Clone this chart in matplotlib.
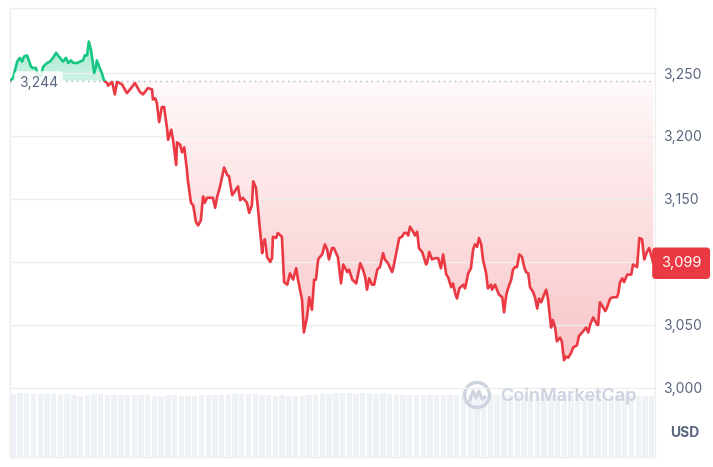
import numpy as np
import matplotlib
matplotlib.use("Agg")
from matplotlib import pyplot as plt
from matplotlib.patches import Circle, Rectangle
from matplotlib.lines import Line2D

# minutes since start of the 24h window
times = [0, 7, 11, 16, 22, 27, 31, 38, 40, 47, 51, 58, 63, 69, 74, 83, 89, 96, 103, 107,
         112, 118, 125, 130, 136, 141, 150, 156, 163, 167, 172, 176, 181, 185, 188, 192, 194, 199, 205, 210,
         217, 219, 228, 234, 239, 250, 261, 268, 279, 290, 297, 308, 317, 319, 324, 328, 333, 339, 344, 351,
         353, 360, 364, 371, 373, 380, 384, 389, 395, 397, 404, 409, 415, 420, 426, 431, 435, 440, 447, 453,
         458, 462, 469, 478, 485, 489, 496, 500, 509, 514, 520, 529, 534, 540, 543, 549, 554, 563, 565, 569,
         574, 581, 585, 587, 594, 598, 607, 612, 619, 625, 632, 639, 643, 652, 656, 663, 668, 674, 679, 683,
         688, 692, 697, 703, 708, 712, 719, 723, 732, 739, 744, 753, 757, 764, 773, 782, 788, 793, 797, 802,
         808, 813, 820, 826, 833, 837, 844, 853, 855, 864, 869, 875, 880, 886, 889, 893, 900, 904, 909, 913,
         920, 922, 929, 931, 936, 942, 949, 956, 962, 967, 974, 978, 985, 989, 994, 998, 1003, 1012, 1016, 1023,
         1029, 1034, 1038, 1043, 1047, 1052, 1056, 1063, 1067, 1074, 1076, 1083, 1087, 1092, 1099, 1103, 1108, 1112, 1119, 1123,
         1128, 1132, 1137, 1143, 1148, 1152, 1157, 1161, 1168, 1172, 1177, 1181, 1186, 1190, 1197, 1201, 1208, 1212, 1217, 1221,
         1228, 1232, 1237, 1241, 1246, 1253, 1257, 1266, 1270, 1277, 1282, 1286, 1291, 1295, 1302, 1311, 1313, 1317, 1324, 1329,
         1333, 1340, 1346, 1355, 1358, 1362, 1367, 1371, 1378, 1387, 1391, 1400, 1405, 1411, 1416, 1422, 1427, 1434, 1436]

prices = [3244, 3246, 3252, 3259, 3262, 3259, 3263, 3264, 3262, 3255, 3254, 3254, 3248, 3248, 3255, 3258, 3259, 3262, 3266, 3264,
          3262, 3259, 3262, 3258, 3260, 3258, 3258, 3259, 3260, 3264, 3264, 3275, 3268, 3258, 3250, 3255, 3260, 3255, 3250, 3244,
          3242, 3240, 3243, 3233, 3243, 3241, 3234, 3237, 3242, 3235, 3233, 3238, 3237, 3229, 3230, 3226, 3211, 3223, 3223, 3205,
          3197, 3205, 3197, 3177, 3195, 3193, 3187, 3191, 3173, 3165, 3147, 3145, 3132, 3129, 3133, 3152, 3147, 3151, 3151, 3151,
          3143, 3151, 3160, 3175, 3169, 3168, 3153, 3155, 3160, 3149, 3151, 3147, 3139, 3145, 3164, 3159, 3141, 3107, 3115, 3118,
          3104, 3100, 3103, 3120, 3119, 3123, 3120, 3084, 3082, 3091, 3086, 3095, 3086, 3070, 3044, 3056, 3072, 3062, 3086, 3086,
          3102, 3104, 3106, 3114, 3110, 3102, 3111, 3111, 3104, 3083, 3098, 3092, 3094, 3086, 3083, 3099, 3094, 3088, 3078, 3087,
          3082, 3082, 3094, 3096, 3107, 3102, 3099, 3092, 3094, 3110, 3119, 3120, 3123, 3123, 3121, 3128, 3124, 3121, 3124, 3111,
          3108, 3106, 3098, 3099, 3108, 3102, 3103, 3103, 3095, 3106, 3090, 3088, 3080, 3083, 3075, 3071, 3079, 3082, 3079, 3091,
          3095, 3110, 3114, 3112, 3119, 3114, 3102, 3091, 3079, 3082, 3078, 3082, 3078, 3074, 3072, 3060, 3074, 3079, 3086, 3094,
          3096, 3096, 3106, 3104, 3096, 3092, 3091, 3080, 3076, 3072, 3063, 3071, 3068, 3072, 3078, 3071, 3048, 3054, 3048, 3037,
          3040, 3037, 3022, 3025, 3024, 3028, 3032, 3034, 3041, 3044, 3046, 3048, 3044, 3050, 3056, 3050, 3050, 3068, 3064, 3061,
          3064, 3071, 3072, 3072, 3075, 3084, 3087, 3084, 3090, 3090, 3098, 3096, 3119, 3118, 3102, 3108, 3111, 3102, 3099]

# 15-minute volume bars (relative units)
volumes = [885, 893, 893, 890, 879, 879, 880, 878, 879, 865, 864, 866, 879, 880,
           872, 871, 872, 873, 872, 870, 872, 851, 853, 872, 871, 858, 857, 858,
           872, 873, 872, 871, 879, 880, 879, 879, 880, 878, 865, 864, 866, 858, 857, 859,
           872, 871, 893, 892, 893, 894, 893, 892, 893, 893, 892, 893,
           880, 872, 872, 871, 872, 873, 872, 872, 871, 872, 872,
           872, 870, 872, 873, 872, 871, 872, 872, 870, 872, 873, 872, 872, 871, 872, 872,
           873, 872, 870, 872, 872, 871, 872, 872, 872, 858, 858, 857, 858]

open_price = 3244
last_price = 3099
y_ticks = [3000, 3050, 3100, 3150, 3200, 3250]
# the 3,100 label sits under the last-price tag
y_labels = ["3,000", "3,050", "", "3,150", "3,200", "3,250"]

RED = "#ea3943"
GREEN = "#16c784"
GREY = "#58667e"
GRID = "#eeeeee"

plt.rcParams["font.family"] = ["Inter", "DejaVu Sans"]

W, H = 713, 467
fig = plt.figure(figsize=(W / 100, H / 100), dpi=100)
ax = fig.add_axes([10 / W, 10 / H, 645 / W, 449 / H])
vax = fig.add_axes([10 / W, 10 / H, 645 / W, 64 / H], zorder=0)
ax.set_zorder(1)
ax.patch.set_alpha(0)

# volume bars
vax.bar(np.arange(len(volumes)), volumes, width=0.8, color="#eef1f6", linewidth=0)
vax.set_xlim(-0.5, len(volumes) - 0.5)
vax.set_ylim(0, 900)
vax.axis("off")

t = np.array(times, dtype=float)
p = np.array(prices, dtype=float)
x0, x1 = 0, 1440
ylo, yhi = 2945.2, 3301.6

# gradient fills, clipped to the area between price and open price
below = ax.fill_between(t, np.minimum(p, open_price), open_price, facecolor="none", edgecolor="none")
above = ax.fill_between(t, np.maximum(p, open_price), open_price, facecolor="none", edgecolor="none")

grad = np.zeros((256, 1, 4))
grad[..., :3] = matplotlib.colors.to_rgb(RED)
grad[:, 0, 3] = np.linspace(0.30, 0.03, 256)
im = ax.imshow(grad, extent=[x0, x1, p.min() - 5, open_price], origin="lower", aspect="auto", zorder=1)
im.set_clip_path(below.get_paths()[0], transform=ax.transData)

ggrad = np.zeros((256, 1, 4))
ggrad[..., :3] = matplotlib.colors.to_rgb(GREEN)
ggrad[:, 0, 3] = np.linspace(0.22, 0.38, 256)
gim = ax.imshow(ggrad, extent=[x0, x1, open_price, p.max()], origin="lower", aspect="auto", zorder=1)
gim.set_clip_path(above.get_paths()[0], transform=ax.transData)

# price line, split at the open price
for col, rect in [(RED, Rectangle((x0, ylo), x1 - x0, open_price - ylo, transform=ax.transData)),
                  (GREEN, Rectangle((x0, open_price), x1 - x0, yhi - open_price, transform=ax.transData))]:
    ln, = ax.plot(t, p, color=col, lw=1.9, zorder=3, solid_joinstyle="round")
    ln.set_clip_path(rect)

ax.axhline(open_price, color="#a6b0c3", lw=1, ls=(0, (1, 3)), zorder=2)

ax.set_xlim(x0, x1)
ax.set_ylim(ylo, yhi)
ax.set_xticks([])
ax.set_yticks(y_ticks)
ax.set_yticklabels(y_labels)
ax.yaxis.tick_right()
ax.tick_params(axis="y", length=0, pad=6, labelcolor=GREY, labelsize=10)
ax.grid(axis="y", color=GRID, lw=1, zorder=0)
for s in ax.spines.values():
    s.set_color(GRID)
    s.set_linewidth(1)

# open price label
ax.text(20, 3242, f"{open_price:,}", color=GREY, fontsize=10, va="center", ha="left", zorder=4,
        bbox=dict(boxstyle="round,pad=0.35", fc="white", ec="none", alpha=0.85))

# last price tag
trans = matplotlib.transforms.blended_transform_factory(ax.transAxes, ax.transData)
ax.text(1.0405, last_price, f"{last_price:,}", transform=trans, color="white", fontsize=10.5,
        ha="center", va="center", zorder=5, clip_on=False,
        bbox=dict(boxstyle="round,pad=0.6,rounding_size=0.25", fc=RED, ec="none"))

fig.text(685 / W, 1 - 433 / H, "USD", color=GREY, fontsize=10, fontweight="bold", ha="center", va="center")

# watermark
cx, cy, r = 477, H - 395, 12.5
fig.add_artist(Circle((cx, cy), r, transform=None, fill=False, ec="#cdd4e0", lw=2.4))
fig.add_artist(Line2D([cx - 7, cx - 4, cx - 1, cx + 2, cx + 5, cx + 8],
                      [cy - 5, cy + 4, cy - 3, cy + 4, cy - 4, cy - 2],
                      transform=None, color="#cdd4e0", lw=2.2, solid_joinstyle="round"))
fig.text(500 / W, 1 - 396 / H, "CoinMarketCap", color="#cdd4e0", fontsize=13, fontweight="semibold",
         ha="left", va="center")

fig.savefig("out.png", dpi=100)
